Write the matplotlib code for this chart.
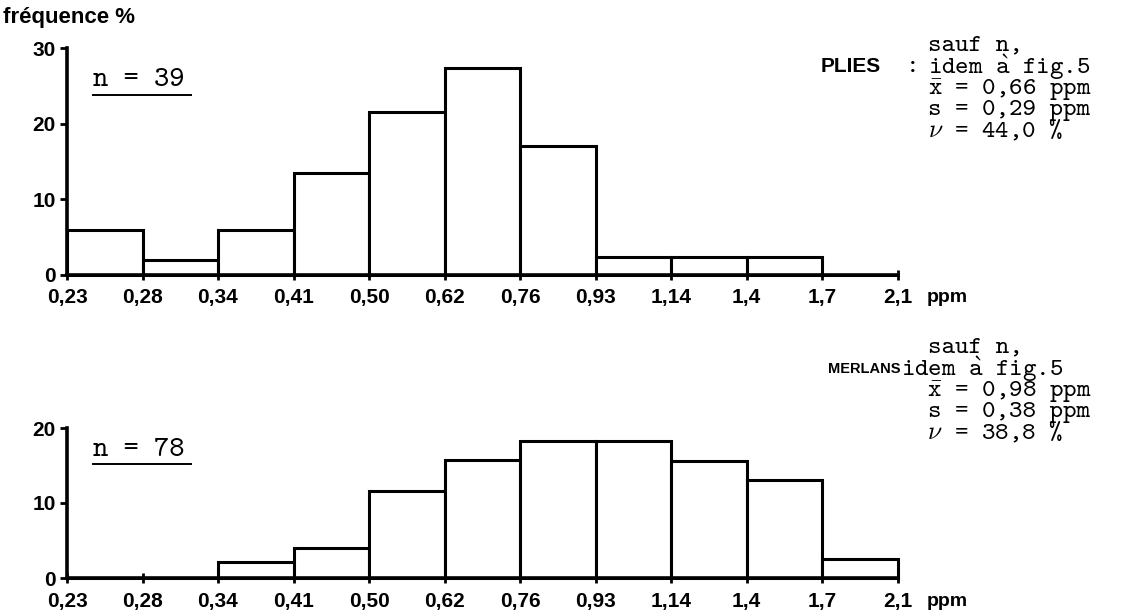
import matplotlib
matplotlib.use("Agg")
import matplotlib.pyplot as plt
import matplotlib.font_manager as fm
from matplotlib.lines import Line2D

# class boundaries (ppm), drawn at equal spacing
bornes = ["0,23", "0,28", "0,34", "0,41", "0,50", "0,62", "0,76",
          "0,93", "1,14", "1,4", "1,7", "2,1"]

# frequencies (%) per class
plies = [6.0, 2.0, 6.0, 13.5, 21.5, 27.4, 17.0, 2.4, 2.4, 2.4, 0.0]
merlans = [0.0, 0.0, 2.2, 4.0, 11.6, 15.8, 18.3, 18.3, 15.6, 13.1, 2.6]

W, H = 1134, 613

plt.rcParams["mathtext.fontset"] = "cm"
# typewriter font for the notes (cmtt10 ships with matplotlib)
mono = fm.FontProperties(family=["cmtt10", "DejaVu Sans Mono"], size=18.5)
mono_n = fm.FontProperties(family=["cmtt10", "DejaVu Sans Mono"], size=21)
bold = dict(fontweight="bold", family="Liberation Sans")


def fx(px):
    return px / W


def fy(py):
    return 1 - py / H


fig = plt.figure(figsize=(W / 100, H / 100), dpi=100)


def histo(rect, freq, ymax, yticks, label_y):
    ax = fig.add_axes(rect)
    idx = list(range(len(freq)))
    ax.bar(idx, freq, width=1, align="edge", facecolor="white",
           edgecolor="black", linewidth=2.2, clip_on=False, zorder=3)
    ax.set_xlim(0, len(bornes) - 1)
    ax.set_ylim(0, ymax)
    ax.set_xticks(range(len(bornes)))
    ax.set_xticklabels([])
    ax.set_yticks(yticks)
    ax.set_yticklabels([str(t) for t in yticks], fontsize=15, **bold)
    for s in ["top", "right"]:
        ax.spines[s].set_visible(False)
    for s in ["left", "bottom"]:
        ax.spines[s].set_linewidth(2.6)
        ax.spines[s].set_zorder(4)
    ax.tick_params(axis="y", direction="out", length=5, width=2, pad=3)
    ax.tick_params(axis="x", direction="inout", length=7, width=2)
    ax.patch.set_alpha(0)
    # class limits written under the ticks
    for i, b in enumerate(bornes):
        fig.text(fx(67 + i * 75.5), fy(label_y), b, ha="center", va="center",
                 fontsize=15, **bold)
    fig.text(fx(927), fy(label_y), "ppm", ha="left", va="center",
             fontsize=14, **bold)
    return ax


histo([fx(67), fy(275), fx(898) - fx(67), fy(48) - fy(275)],
      plies, 30, [0, 10, 20, 30], 298)
histo([fx(67), fy(578), fx(898) - fx(67), fy(428) - fy(578)],
      merlans, 20, [0, 10, 20], 601)

fig.text(fx(3), fy(18), "fréquence %", ha="left", va="center",
         fontsize=16, **bold)

# sample sizes, underlined
for txt, yc, yl in [("n = 39", 81, 95), ("n = 78", 450, 464)]:
    fig.text(fx(93), fy(yc), txt, ha="left", va="center",
             fontproperties=mono_n)
    fig.add_artist(Line2D([fx(93), fx(191)], [fy(yl), fy(yl)],
                          color="black", linewidth=1.4))

a_grave = r"$\grave{\mathtt{a}}$"
x_barre = r"$\bar{\mathtt{x}}$"
nu = r"$\nu$"

notes_plies = "\n".join([
    "sauf n,",
    "idem " + a_grave + " fig.5",
    x_barre + " = 0,66 ppm",
    "s = 0,29 ppm",
    nu + " = 44,0 %",
])
notes_merlans = "\n".join([
    "  sauf n,",
    "idem " + a_grave + " fig.5",
    "  " + x_barre + " = 0,98 ppm",
    "  s = 0,38 ppm",
    "  " + nu + " = 38,8 %",
])

fig.text(fx(928), fy(89), notes_plies, ha="left", va="center",
         fontproperties=mono, linespacing=0.79)
fig.text(fx(906), fy(67), ":", ha="left", va="center", fontproperties=mono)
fig.text(fx(821), fy(67), "PLIES", ha="left", va="center", fontsize=15,
         **bold)

fig.text(fx(901), fy(391), notes_merlans, ha="left", va="center",
         fontproperties=mono, linespacing=0.79)
fig.text(fx(828), fy(369), "MERLANS", ha="left", va="center", fontsize=10.5,
         **bold)

fig.savefig("out.png", dpi=100, facecolor="white")
